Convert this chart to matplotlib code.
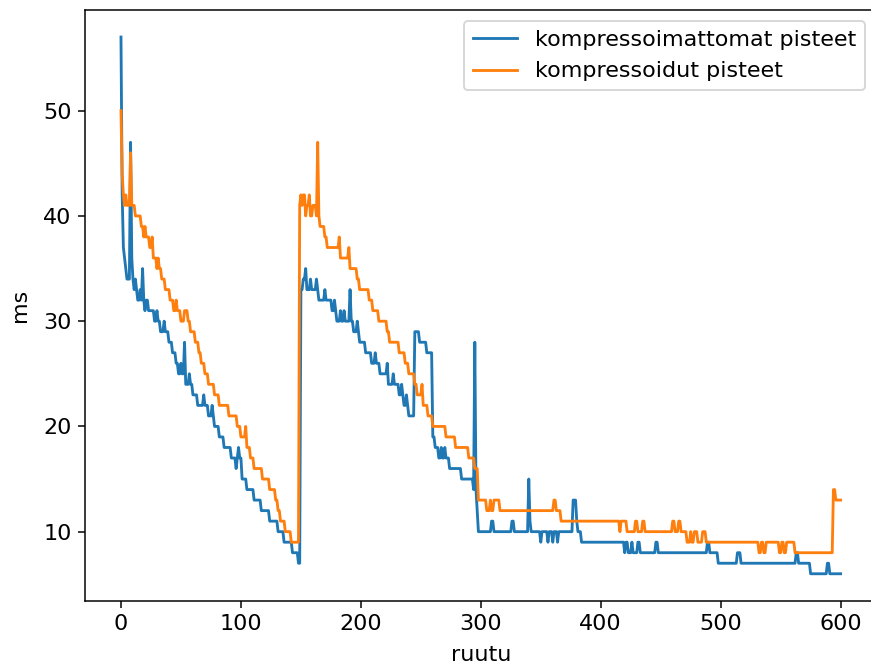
import numpy as np
import matplotlib
matplotlib.use("Agg")
import matplotlib.pyplot as plt

N_FRAMES = 601  # ruutu 0..600

# Step data: (first frame, value in ms)
blue_start = [0, 1, 2, 3, 4, 5, 8, 9, 10, 11, 12, 13, 14, 16, 17, 18, 19, 20, 21, 23,
              28, 30, 31, 33, 36, 37, 40, 43, 46, 48, 50, 51, 53, 54, 57, 58, 60, 64,
              69, 70, 73, 76, 77, 78, 82, 86, 92, 96, 97, 98, 99, 101, 105, 111, 117,
              124, 131, 136, 143, 148, 150, 152, 154, 155, 158, 159, 163, 164, 165,
              170, 171, 176, 178, 179, 180, 183, 184, 186, 187, 191, 192, 194, 197,
              198, 199, 204, 209, 212, 213, 216, 222, 223, 227, 228, 232, 234, 235,
              236, 238, 239, 240, 245, 249, 255, 260, 262, 265, 267, 268, 270, 271,
              274, 284, 294, 295, 296, 297, 298, 309, 311, 326, 328, 340, 341, 342,
              350, 351, 356, 357, 360, 361, 364, 365, 377, 380, 381, 384, 420, 421,
              423, 426, 427, 431, 433, 446, 448, 489, 491, 498, 514, 517, 563, 565,
              575, 589, 591]
blue_val = [57, 42, 37, 36, 35, 34, 47, 36, 34, 33, 34, 33, 32, 33, 32, 35, 32, 31, 32, 31,
            30, 31, 30, 29, 30, 29, 28, 27, 26, 25, 26, 25, 28, 24, 25, 24, 23, 22,
            23, 22, 21, 22, 21, 20, 19, 18, 17, 16, 17, 18, 17, 15, 14, 13, 12,
            11, 10, 9, 8, 7, 33, 34, 35, 33, 34, 33, 34, 33, 32,
            33, 32, 31, 32, 31, 30, 31, 30, 31, 30, 33, 30, 29, 30,
            29, 28, 27, 26, 27, 26, 25, 26, 24, 25, 24, 23, 24, 23,
            22, 23, 22, 21, 29, 28, 27, 19, 18, 17, 18, 17, 18, 17,
            16, 15, 14, 28, 14, 12, 10, 11, 10, 11, 10, 15, 11, 10,
            9, 10, 9, 10, 9, 10, 9, 10, 13, 11, 10, 9, 8, 9,
            8, 9, 8, 9, 8, 9, 8, 9, 8, 7, 8, 7, 8, 7,
            6, 7, 6]

orange_start = [0, 1, 2, 3, 4, 5, 8, 9, 12, 17, 19, 20, 21, 24, 26, 27, 30, 31, 32, 34,
                37, 41, 44, 46, 47, 50, 53, 56, 58, 62, 65, 67, 70, 73, 78, 82, 90,
                97, 100, 104, 105, 108, 111, 118, 124, 129, 131, 133, 137, 142, 149,
                150, 151, 152, 154, 155, 157, 158, 160, 163, 164, 165, 166, 170, 172,
                182, 183, 190, 191, 197, 199, 207, 210, 215, 222, 224, 232, 237, 240,
                245, 247, 251, 252, 256, 260, 271, 279, 290, 295, 298, 305, 308, 309,
                311, 316, 361, 363, 367, 416, 417, 422, 429, 431, 435, 437, 460, 462,
                465, 467, 472, 475, 476, 478, 481, 485, 488, 532, 534, 536, 538, 549,
                551, 553, 555, 562, 594, 596]
orange_val = [50, 44, 42, 41, 42, 41, 46, 41, 40, 39, 38, 39, 38, 37, 38, 36, 35, 36, 35, 34,
              33, 32, 31, 32, 31, 30, 31, 30, 29, 28, 27, 26, 25, 24, 23, 22, 21,
              20, 19, 20, 18, 17, 16, 15, 14, 13, 12, 11, 10, 9, 41,
              42, 41, 42, 40, 41, 42, 40, 41, 40, 47, 40, 39, 38, 37,
              38, 36, 37, 35, 34, 33, 32, 31, 30, 29, 28, 27, 26, 25,
              24, 23, 24, 22, 21, 20, 19, 18, 17, 16, 13, 12, 13, 12,
              13, 12, 13, 12, 11, 10, 11, 10, 11, 10, 11, 10, 11, 10,
              11, 10, 9, 10, 9, 10, 9, 10, 9, 8, 9, 8, 9, 8,
              9, 8, 9, 8, 14, 13]

series_labels = ["kompressoimattomat pisteet", "kompressoidut pisteet"]


def expand(starts, vals, n):
    counts = np.diff(list(starts) + [n])
    return np.repeat(vals, counts)


frames = np.arange(N_FRAMES)
blue = expand(blue_start, blue_val, N_FRAMES)
orange = expand(orange_start, orange_val, N_FRAMES)

plt.rcParams["font.size"] = 11.8

DPI = 136
fig = plt.figure(figsize=(871 / DPI, 666 / DPI), dpi=DPI)
ax = fig.add_axes([85 / 871, (666 - 600.6) / 666, (876.6 - 85) / 871, (600.6 - 10.2) / 666])
ax.plot(frames, blue, color="#1f77b4", label=series_labels[0])
ax.plot(frames, orange, color="#ff7f0e", label=series_labels[1])
ax.set_xlabel("ruutu", labelpad=6)
ax.set_ylabel("ms", labelpad=7)
ax.legend(loc="upper right")
fig.savefig("out.png", dpi=DPI)
